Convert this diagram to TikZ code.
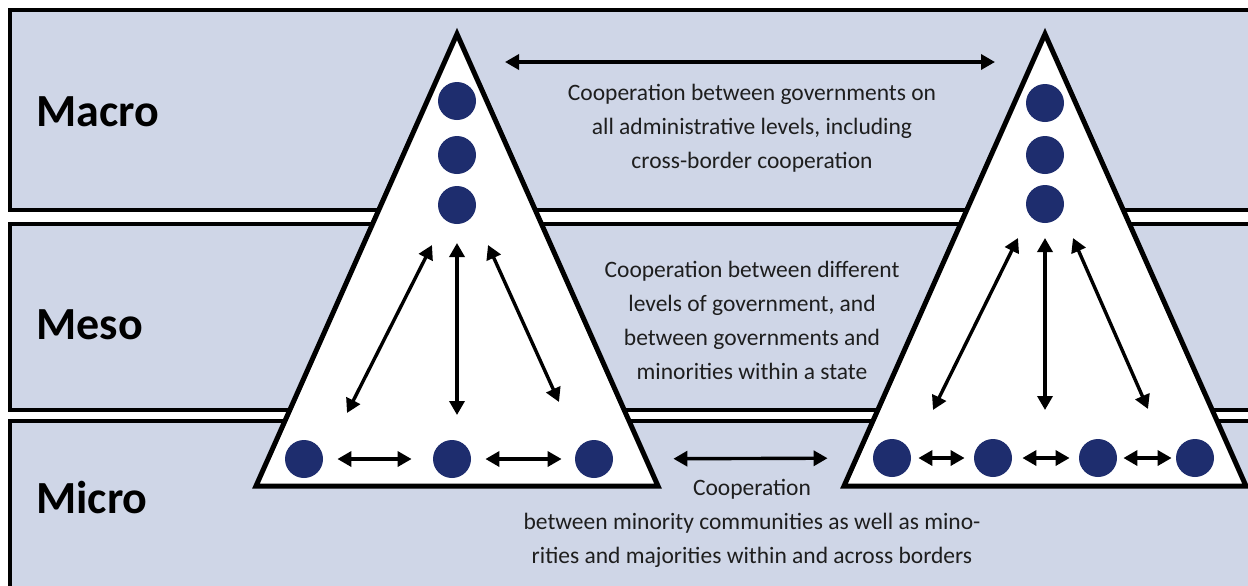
\documentclass[tikz,border=0pt]{standalone}
\usepackage{fontspec}
\setmainfont{Carlito}
\usepackage{xcolor}
\usepackage{tikz}
\usetikzlibrary{
  positioning,
  arrows.meta,
  calc
}
\definecolor{bandblue}{RGB}{207,214,231}
\definecolor{dotnavy}{RGB}{30,45,110}
\definecolor{textgray}{RGB}{30,30,30}

\begin{document}
\begin{tikzpicture}[
  x=0.5pt, y=-0.5pt,
  % --- styles ---
  band/.style={draw=black, fill=bandblue, line width=2pt},
  tri/.style={draw=black, fill=white, line width=2.5pt},
  dot/.style={circle, fill=dotnavy, minimum size=19pt, inner sep=0pt},
  level/.style={anchor=west, inner sep=0pt, font=\fontsize{23}{26}\selectfont\bfseries},
  note/.style={align=center, inner sep=0pt, text=textgray,
    font=\fontsize{11.75}{17}\selectfont},
  arr/.style={{Triangle[length=7pt,width=7.5pt]}-{Triangle[length=7pt,width=7.5pt]}, line width=1.7pt},
]
\clip (0,0) rectangle (1248,585);
\useasboundingbox (0,0) rectangle (1248,585);

% Bands
\draw[band] (10,10) rectangle (1270,210);
\draw[band] (10,224) rectangle (1270,410);
\draw[band] (10,421) rectangle (1270,620);

\node[level] (macro) at (36,112) {Macro};
\node[level] (meso)  at (36,325) {Meso};
\node[level] (micro) at (36,498) {Micro};

% Left triangle
\draw[tri] (457,34) coordinate (apexA) -- (658,486) -- (256,486) -- cycle;
\node[dot] (a1) at (457,101) {};
\node[dot] (a2) at (457,155) {};
\node[dot] (a3) at (457,205) {};
\node[dot] (a4) at (304,459) {};
\node[dot] (a5) at (452,459) {};
\node[dot] (a6) at (594,459) {};

% Right triangle
\draw[tri] (1045,34) coordinate (apexB) -- (1246,486) -- (844,486) -- cycle;
\node[dot] (b1) at (1045,103) {};
\node[dot] (b2) at (1045,155) {};
\node[dot] (b3) at (1045,204) {};
\node[dot] (b4) at (892,458) {};
\node[dot] (b5) at (993,458) {};
\node[dot] (b6) at (1098,458) {};
\node[dot] (b7) at (1195,458) {};

% Texts
\node[note] (macrotxt) at (752,128) {Cooperation between governments on\\all administrative levels, including\\cross-border cooperation};
\node[note] (mesotxt) at (752,320) {Cooperation between different\\levels of government, and\\between governments and\\minorities within a state};
\node[note] (microtxt) at (752,523) {Cooperation\\between minority communities as well as mino-\\rities and majorities within and across borders};

% ─── Arrows ──────────────────────────────────────────────────────────────
\coordinate (topL) at (505,62);
\coordinate (topR) at (995,62);
\draw[arr] (topL) -- (topR);
\draw[arr, shorten <=30pt, shorten >=22.5pt] (a6) -- (b4);

% left triangle
\draw[arr] ([shift={(-25,40)}]a3.center) -- ([shift={(43,-46)}]a4.center);
\draw[arr] ([shift={(0,38)}]a3.center) -- ([shift={(5,-44)}]a5.center);
\draw[arr] ([shift={(31,40)}]a3.center) -- ([shift={(-35,-57)}]a6.center);
\draw[arr, shorten <=7pt, shorten >=10.5pt] (a4) -- (a5);
\draw[arr, shorten <=7pt, shorten >=6.5pt] (a5) -- (a6);

% right triangle
\draw[arr] ([shift={(-27,34)}]b3.center) -- ([shift={(41,-48)}]b4.center);
\draw[arr] ([shift={(0,34)}]b3.center) -- ([shift={(52,-48)}]b5.center);
\draw[arr] ([shift={(28,34)}]b3.center) -- ([shift={(-47,-49)}]b7.center);
\draw[arr, shorten <=3.5pt, shorten >=4.5pt] (b4) -- (b5);
\draw[arr, shorten <=5pt, shorten >=4.5pt] (b5) -- (b6);
\draw[arr, shorten <=3pt, shorten >=2pt] (b6) -- (b7);

\end{tikzpicture}
\end{document}
